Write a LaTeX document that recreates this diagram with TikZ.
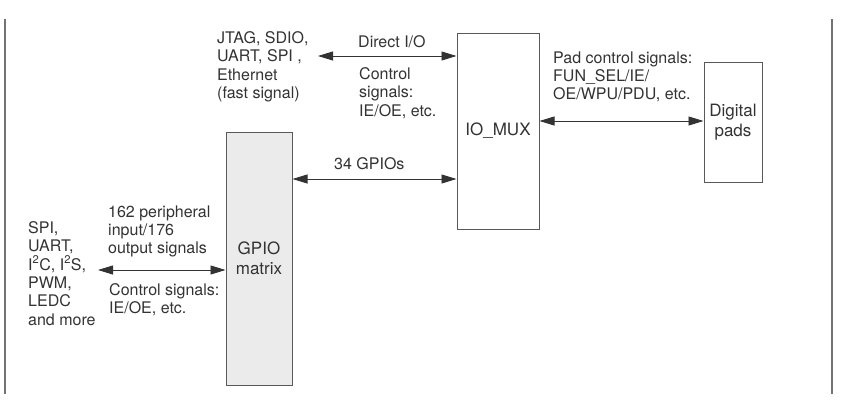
\documentclass[tikz,border=0pt]{standalone}
\usepackage{fontspec}
\setmainfont{TeX Gyre Heros}
\usetikzlibrary{arrows.meta}
\begin{document}
\begin{tikzpicture}[x=1pt,y=-1pt,
  txt/.style={font=\fontsize{16}{18.3}\selectfont, text=black!80, inner sep=0pt, align=left, anchor=north west},
  blk/.style={draw=black!65, line width=1pt, font=\fontsize{17}{20}\selectfont, text=black!80, align=center, inner sep=0pt},
  conn/.style={draw=black!80, line width=0.9pt, {Triangle[length=15pt,width=9pt]}-{Triangle[length=15pt,width=9pt]}},
  frame/.style={draw=black!55, line width=1.3pt}]
\useasboundingbox (0,0) rectangle (847,408);
\fill[white] (0,0) rectangle (847,408);
% frame lines
\coordinate (fl1) at (5,19); \coordinate (fl2) at (5,394);
\coordinate (fr1) at (832,19); \coordinate (fr2) at (832,394);
\draw[frame] (fl1) -- (fl2);
\draw[frame] (fr1) -- (fr2);
% blocks
\node[blk, minimum width=82pt, minimum height=196pt] (iomux) at (498,131) {IO\_MUX};
\node[blk, minimum width=58pt, minimum height=120pt] (pads) at (733,122) {Digital\\pads};
\node[blk, fill=black!8, minimum width=66pt, minimum height=253pt] (gpio) at (259,258.5) {GPIO\\matrix};
% endpoints
\coordinate (jtagend) at (318,56);
\coordinate (periend) at (98,270);
% connectors
\draw[conn] (jtagend) -- (jtagend -| iomux.west);
\draw[conn] (gpio.east |- 0,179) -- (iomux.west |- 0,179);
\draw[conn] (iomux.east |- 0,121) -- (pads.west |- 0,121);
\draw[conn] (periend) -- (periend -| gpio.west);
% texts (top = first baseline - 11.6)
\node[txt] (jtag) at (217,31.4) {JTAG, SDIO,\\UART, SPI ,\\Ethernet\\(fast signal)};
\node[txt] (dio) at (358,35.4) {Direct I/O};
\node[txt] (ctl1) at (359,67.4) {Control\\signals:\\IE/OE, etc.};
\node[txt] (g34) at (334,157.4) {34 GPIOs};
\node[txt] (padctl) at (553,51.4) {Pad control signals:\\FUN\_SEL/IE/\\OE/WPU/PDU, etc.};
\node[txt] (peri) at (108,205.4) {162 peripheral\\input/176\\output signals};
\node[txt] (ctl2) at (109,283.4) {Control signals:\\IE/OE, etc.};
\node[txt] (spi) at (28,221.4) {SPI,\\UART,\\I\textsuperscript{2}C, I\textsuperscript{2}S,\\PWM,\\LEDC\\and more};
\end{tikzpicture}
\end{document}
